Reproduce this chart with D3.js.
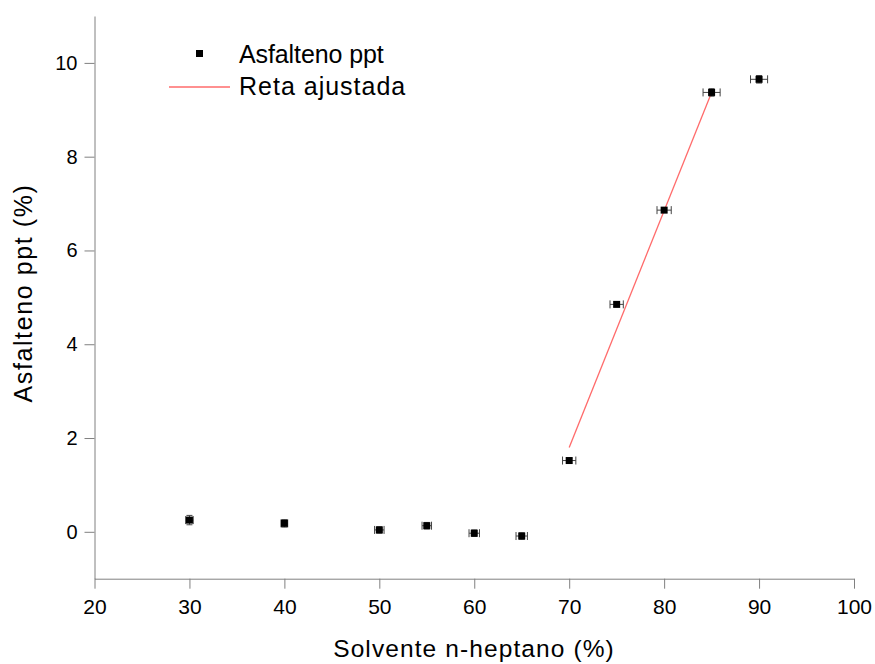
<!DOCTYPE html>
<html><head><meta charset="utf-8">
<script src="https://cdn.jsdelivr.net/npm/d3@7"></script>
<style>body{margin:0;background:#fff}svg{display:block;font-family:"Liberation Sans",Arial,sans-serif}</style>
</head><body><svg id="c" width="875" height="664"></svg>
<script>
const solvent = [30, 40, 50, 55, 60, 65, 70, 75, 80, 85, 90];
const asfalteno = [0.25, 0.18, 0.04, 0.13, -0.03, -0.09, 1.52, 4.85, 6.86, 9.37, 9.65];
const xErr = [0.4, 0.35, 0.5, 0.5, 0.55, 0.6, 0.7, 0.7, 0.75, 0.9, 0.9];
const yErr = [0.1, 0.08, 0.07, 0.07, 0.07, 0.07, 0.05, 0.05, 0.05, 0.08, 0.08];
const fitX = [70, 85];
const fitY = [1.80, 9.37];
const xTicks = [20, 30, 40, 50, 60, 70, 80, 90, 100];
const yTicks = [0, 2, 4, 6, 8, 10];
const legendLabels = ["Asfalteno ppt", "Reta ajustada"];

const svg = d3.select("#c");
const x = d3.scaleLinear().domain([20, 100]).range([94.5, 854]);
const y = d3.scaleLinear().domain([-1, 11]).range([578.7, 16]);
const axisColor = "#808080";

// x axis
const xAxis = svg.append("g").attr("transform", `translate(0,${y(-1)})`);
xAxis.call(d3.axisBottom(x).tickValues(d3.range(20, 101, 5)).tickSize(5).tickFormat(""));
xAxis.call(d3.axisBottom(x).tickValues(xTicks).tickSize(10).tickSizeOuter(0).tickFormat(d3.format("d")));
xAxis.selectAll("path,line").attr("stroke", axisColor);
xAxis.selectAll("text").attr("font-size", 21).attr("fill", "#000").attr("dy", "0.71em").attr("y", 20)
  .attr("font-family", "Liberation Sans, Arial, sans-serif");

// y axis
const yAxis = svg.append("g").attr("transform", `translate(${x(20)},0)`);
yAxis.call(d3.axisLeft(y).tickValues(d3.range(-1, 11.01, 1)).tickSize(5).tickFormat(""));
yAxis.call(d3.axisLeft(y).tickValues(yTicks).tickSize(10).tickSizeOuter(0).tickFormat(d3.format("d")));
yAxis.selectAll("path,line").attr("stroke", axisColor);
yAxis.selectAll("text").attr("font-size", 20).attr("fill", "#000").attr("x", -17)
  .attr("font-family", "Liberation Sans, Arial, sans-serif");

// axis titles
svg.append("text").attr("x", 474).attr("y", 657).attr("text-anchor", "middle")
  .attr("font-size", 24.5).attr("letter-spacing", 1.1).text("Solvente n-heptano (%)");
svg.append("text").attr("transform", `translate(32,293) rotate(-90)`)
  .attr("text-anchor", "middle").attr("font-size", 25).attr("letter-spacing", 1.6).text("Asfalteno ppt (%)");

// fit line
svg.append("line").attr("x1", x(fitX[0])).attr("y1", y(fitY[0])).attr("x2", x(fitX[1])).attr("y2", y(fitY[1]))
  .attr("stroke", "#ff6b6b").attr("stroke-width", 1.3);

// error bars
const data = solvent.map((s, i) => ({ s, v: asfalteno[i], ex: xErr[i], ey: yErr[i] }));
const eb = svg.append("g").attr("stroke", "#444").attr("stroke-width", 1);
data.forEach(d => {
  const cx = x(d.s), cy = y(d.v);
  const x0 = x(d.s - d.ex), x1 = x(d.s + d.ex);
  const y0 = y(d.v - d.ey), y1 = y(d.v + d.ey);
  eb.append("line").attr("x1", x0).attr("x2", x1).attr("y1", cy).attr("y2", cy);
  eb.append("line").attr("x1", x0).attr("x2", x0).attr("y1", cy - 4).attr("y2", cy + 4);
  eb.append("line").attr("x1", x1).attr("x2", x1).attr("y1", cy - 4).attr("y2", cy + 4);
  eb.append("line").attr("x1", cx).attr("x2", cx).attr("y1", y0).attr("y2", y1);
  eb.append("line").attr("x1", cx - 3).attr("x2", cx + 3).attr("y1", y0).attr("y2", y0);
  eb.append("line").attr("x1", cx - 3).attr("x2", cx + 3).attr("y1", y1).attr("y2", y1);
});
svg.append("g").selectAll("rect").data(data).join("rect")
  .attr("x", d => x(d.s) - 3.5).attr("y", d => y(d.v) - 3.5).attr("width", 7).attr("height", 7).attr("fill", "#000");

// legend
svg.append("rect").attr("x", 196).attr("y", 50).attr("width", 7).attr("height", 7).attr("fill", "#000");
svg.append("text").attr("x", 239).attr("y", 63).attr("font-size", 25).attr("letter-spacing", -0.1).text(legendLabels[0]);
svg.append("line").attr("x1", 169).attr("x2", 230).attr("y1", 87).attr("y2", 87).attr("stroke", "#ff6b6b").attr("stroke-width", 1.3);
svg.append("text").attr("x", 239).attr("y", 95).attr("font-size", 25).attr("letter-spacing", 1).text(legendLabels[1]);
</script></body></html>
